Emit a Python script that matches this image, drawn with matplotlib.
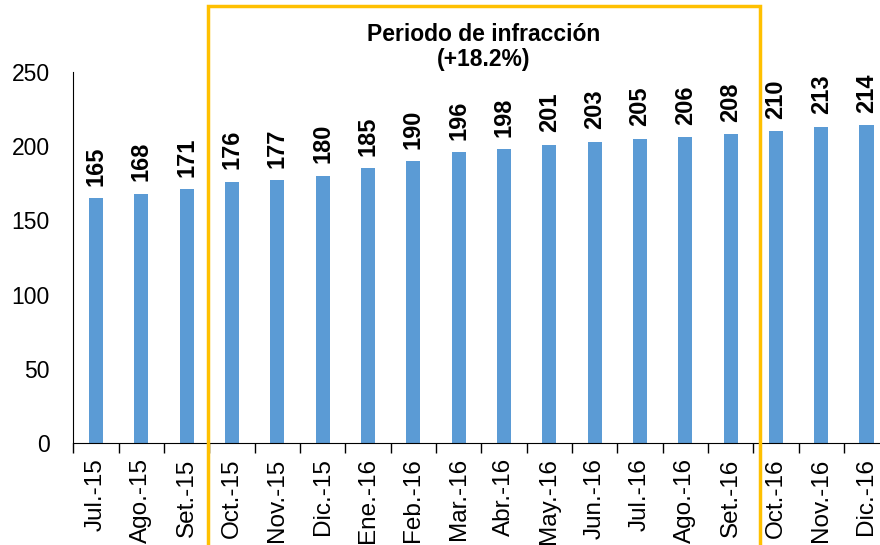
import matplotlib
matplotlib.use('Agg')
import matplotlib.pyplot as plt
from matplotlib.patches import Rectangle
import numpy as np

plt.rcParams['font.family'] = ['Liberation Sans', 'DejaVu Sans']

meses = ['Jul.-15', 'Ago.-15', 'Set.-15', 'Oct.-15', 'Nov.-15', 'Dic.-15',
         'Ene.-16', 'Feb.-16', 'Mar.-16', 'Abr.-16', 'May.-16', 'Jun.-16',
         'Jul.-16', 'Ago.-16', 'Set.-16', 'Oct.-16', 'Nov.-16', 'Dic.-16']
valores = [165, 168, 171, 176, 177, 180, 185, 190, 196, 198, 201, 203,
           205, 206, 208, 210, 213, 214]

fig = plt.figure(figsize=(8.8, 5.45), dpi=100)
ax = fig.add_axes([0.0834, 0.187, 0.927, 0.681])

x = np.arange(len(meses))
ax.bar(x, valores, width=0.31, color='#5B9BD5')

for xi, v in zip(x, valores):
    ax.annotate(str(v), (xi, v), xytext=(0, 9), textcoords='offset points',
                rotation=90, ha='center', va='bottom',
                fontsize=17, fontweight='bold')

ax.set_xlim(-0.5, len(meses) - 0.5)
ax.set_ylim(0, 250)
ax.set_yticks([0, 50, 100, 150, 200, 250])
ax.tick_params(axis='y', length=0, labelsize=16.5, pad=17)
ax.set_xticks(x)
ax.set_xticklabels(meses, rotation=90, fontsize=17.5)
ax.tick_params(axis='x', length=0, pad=11)
ax.set_xticks(np.arange(-0.5, len(meses)), minor=True)
ax.tick_params(axis='x', which='minor', length=7, width=1)

for s in ['top', 'right']:
    ax.spines[s].set_visible(False)

# recuadro del periodo de infraccion
fig.patches.append(Rectangle((208 / 880, -0.01), (760 - 208) / 880, 1 - 6 / 545 + 0.01,
                             transform=fig.transFigure, fill=False,
                             edgecolor='#FFC000', linewidth=2.5))
fig.text(484 / 880, 1 - 47 / 545, 'Periodo de infracción\n(+18.2%)',
         ha='center', va='center', fontsize=16.5, fontweight='bold',
         linespacing=1.1)

fig.savefig('out.png', dpi=100)
